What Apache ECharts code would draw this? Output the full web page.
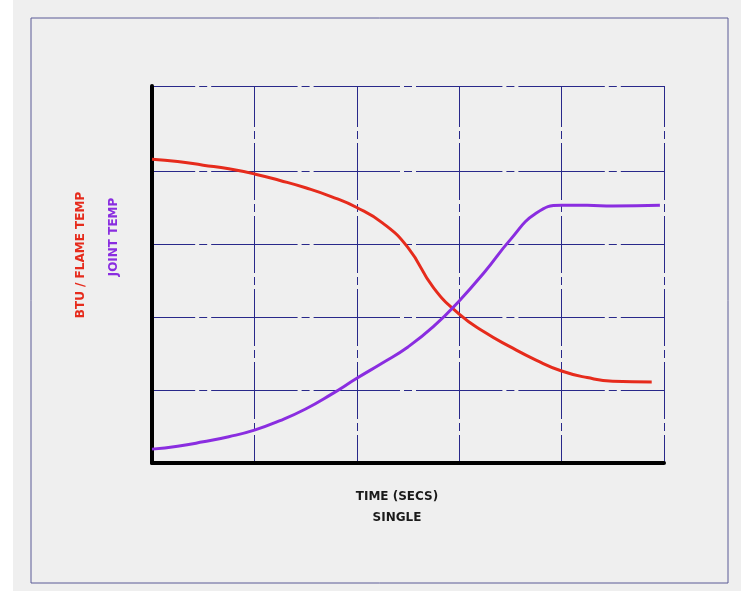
<!DOCTYPE html>
<html>
<head>
<meta charset="utf-8">
<script src="https://cdn.jsdelivr.net/npm/echarts@6/dist/echarts.min.js"></script>
<style>
html,body{margin:0;padding:0;background:#ffffff;}
#chart{width:741px;height:591px;}
</style>
</head>
<body>
<div id="chart"></div>
<script>
// Time in grid cells (0..5), values in grid-line units
const redTime   = [0, 0.25, 0.5, 0.75, 1.0, 1.25, 1.5, 1.75, 2.0, 2.25, 2.5, 2.75, 3.0, 3.25, 3.5, 3.75, 4.0, 4.25, 4.5, 4.88];
const redValues = [4.16, 4.13, 4.08, 4.03, 3.96, 3.87, 3.77, 3.65, 3.50, 3.29, 2.95, 2.40, 2.04, 1.79, 1.59, 1.41, 1.26, 1.17, 1.12, 1.11];
const purpleTime   = [0, 0.25, 0.5, 0.75, 1.0, 1.25, 1.5, 1.75, 2.0, 2.25, 2.5, 2.75, 3.0, 3.25, 3.5, 3.75, 4.0, 4.25, 4.5, 4.96];
const purpleValues = [0.19, 0.23, 0.29, 0.36, 0.45, 0.58, 0.74, 0.94, 1.16, 1.37, 1.59, 1.87, 2.22, 2.62, 3.06, 3.42, 3.53, 3.53, 3.52, 3.53];
const xTitle = ['TIME (SECS)', 'SINGLE'];
const redTitle = 'BTU / FLAME TEMP';
const purpleTitle = 'JOINT TEMP';

const gridColor = '#28288a';
const hDash = {type: [86.4, 4, 8, 4], dashOffset: 43.2, color: gridColor, width: 1};
const vDash = {type: [57, 4, 8, 4], dashOffset: 16, color: gridColor, width: 1};
const labelFont = "bold 12px 'DejaVu Sans'";

const chart = echarts.init(document.getElementById('chart'));
chart.setOption({
  backgroundColor: '#efefef',
  animation: false,
  grid: [
    {left: 152, top: 86, width: 512, height: 377},
    {left: 152, top: 171, width: 512, height: 292}
  ],
  xAxis: [
    {gridIndex: 0, type: 'value', min: 0, max: 5, interval: 1,
     axisLine: {show: true, onZero: false, lineStyle: {color: '#000', width: 4}},
     axisTick: {show: false}, axisLabel: {show: false},
     splitLine: {show: true, lineStyle: vDash}},
    {gridIndex: 1, type: 'value', min: 0, max: 5, show: false}
  ],
  yAxis: [
    {gridIndex: 0, type: 'value', min: 0, max: 1, interval: 1,
     axisLine: {show: true, lineStyle: {color: '#000', width: 4}},
     axisTick: {show: false}, axisLabel: {show: false},
     splitLine: {show: true, lineStyle: hDash}},
    {gridIndex: 0, type: 'value', min: 0, max: 377 / 73, show: false},
    {gridIndex: 1, type: 'value', min: 0, max: 4, interval: 1,
     axisLine: {show: false}, axisTick: {show: false}, axisLabel: {show: false},
     splitLine: {show: true, lineStyle: hDash}}
  ],
  series: [
    {type: 'line', xAxisIndex: 0, yAxisIndex: 1, smooth: 0.5, showSymbol: false,
     data: redTime.map((t, i) => [t, redValues[i]]),
     lineStyle: {color: '#e62b1c', width: 3}},
    {type: 'line', xAxisIndex: 0, yAxisIndex: 1, smooth: 0.5, showSymbol: false,
     data: purpleTime.map((t, i) => [t, purpleValues[i]]),
     lineStyle: {color: '#8a2de0', width: 3}}
  ],
  graphic: [
    {type: 'rect', left: 0, top: 0, shape: {width: 13, height: 591}, style: {fill: '#ffffff'}, silent: true},
    {type: 'rect', left: 28.5, top: 15.5, shape: {width: 697, height: 565}, style: {fill: 'none', stroke: '#5a5a96', lineWidth: 1}, silent: true},
    {type: 'text', x: 81, y: 255, rotation: Math.PI / 2,
     style: {text: redTitle, fill: '#e62b1c', font: labelFont, textAlign: 'center', textVerticalAlign: 'middle'}},
    {type: 'text', x: 114, y: 237, rotation: Math.PI / 2,
     style: {text: purpleTitle, fill: '#8a2de0', font: labelFont, textAlign: 'center', textVerticalAlign: 'middle'}},
    {type: 'text', x: 397, y: 497,
     style: {text: xTitle[0], fill: '#1a1a1a', font: labelFont, textAlign: 'center', textVerticalAlign: 'middle'}},
    {type: 'text', x: 397, y: 518,
     style: {text: xTitle[1], fill: '#1a1a1a', font: labelFont, textAlign: 'center', textVerticalAlign: 'middle'}}
  ]
});
</script>
</body>
</html>
